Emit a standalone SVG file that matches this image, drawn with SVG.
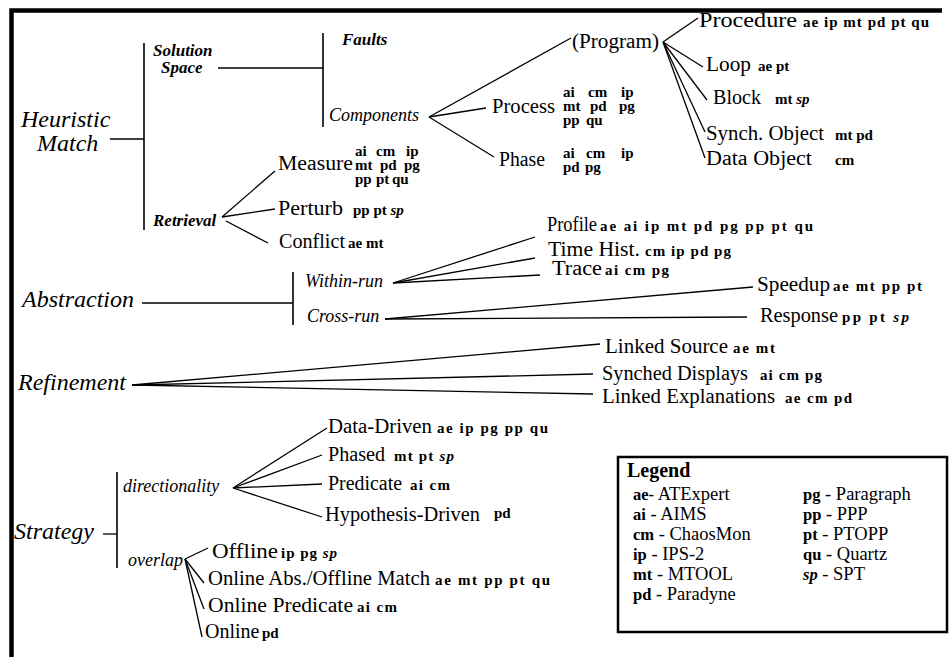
<svg xmlns="http://www.w3.org/2000/svg" width="951" height="657" viewBox="0 0 951 657">
<style>
text{fill:#000}
.cat{font-size:24px;font-style:italic}
.sub{font-size:17px;font-style:italic;font-weight:bold}
.subr{font-size:18px;font-style:italic}
.lbl{font-size:20px}
.tag{font-size:15px;font-weight:bold}
.it{font-style:italic}
.lg{font-size:18.5px}
.lgh{font-size:20px;font-weight:bold}
.b{font-weight:bold;font-size:16.5px}
#connectors line{stroke:#000;stroke-width:1.3;fill:none}
#connectors .bar{stroke-width:1.6}
</style>
<rect width="951" height="657" fill="#fff"/>
<path d="M11.5,657 V10.5 H942" fill="none" stroke="#000" stroke-width="4.5"/>

<g id="connectors">
<line x1="110" y1="139" x2="144" y2="139"/>
<line class="bar" x1="144" y1="43" x2="144" y2="230"/>
<line x1="218" y1="68" x2="323" y2="68"/>
<line class="bar" x1="323" y1="33" x2="323" y2="127"/>
<line x1="429" y1="117" x2="571" y2="38"/>
<line x1="429" y1="117" x2="486" y2="108"/>
<line x1="429" y1="117" x2="494" y2="157"/>
<line x1="663" y1="42" x2="698" y2="18"/>
<line x1="663" y1="42" x2="703" y2="67"/>
<line x1="663" y1="42" x2="707" y2="100"/>
<line x1="663" y1="42" x2="705" y2="132"/>
<line x1="663" y1="42" x2="705" y2="158"/>
<line x1="222" y1="217" x2="275" y2="171"/>
<line x1="222" y1="217" x2="275" y2="209"/>
<line x1="226" y1="221" x2="268" y2="243"/>
<line x1="142" y1="303" x2="293" y2="303"/>
<line class="bar" x1="293" y1="272" x2="293" y2="325"/>
<line x1="393" y1="283" x2="535" y2="237"/>
<line x1="393" y1="283" x2="535" y2="258"/>
<line x1="393" y1="283" x2="540" y2="275"/>
<line x1="385" y1="319" x2="753" y2="287"/>
<line x1="385" y1="319" x2="747" y2="317"/>
<line x1="132" y1="385" x2="600" y2="344"/>
<line x1="132" y1="385" x2="593" y2="374"/>
<line x1="132" y1="385" x2="593" y2="394"/>
<line x1="103" y1="534" x2="117" y2="534"/>
<line class="bar" x1="117" y1="472" x2="117" y2="568"/>
<line x1="233" y1="488" x2="327" y2="428"/>
<line x1="233" y1="488" x2="322" y2="455"/>
<line x1="233" y1="488" x2="322" y2="484"/>
<line x1="233" y1="488" x2="322" y2="517"/>
<line x1="185" y1="559" x2="208" y2="548"/>
<line x1="185" y1="559" x2="204" y2="583"/>
<line x1="185" y1="559" x2="204" y2="609"/>
<line x1="185" y1="559" x2="202" y2="637"/>
</g>

<g font-family="'Liberation Serif', 'DejaVu Serif', serif">
<g id="heuristic-match"><text class="cat" x="21" y="127">Heuristic</text><text class="cat" x="37" y="151">Match</text></g>
<g id="solution-space"><text class="sub" x="153" y="56">Solution</text><text class="sub" x="161" y="73">Space</text></g>
<g id="faults"><text class="sub" x="342" y="45">Faults</text></g>
<g id="components"><text class="subr" x="329" y="121">Components</text></g>
<g id="program"><text class="lbl" x="572" y="48" textLength="87" lengthAdjust="spacingAndGlyphs">(Program)</text></g>
<g id="procedure"><text class="lbl" x="699" y="27" textLength="98" lengthAdjust="spacingAndGlyphs">Procedure</text><text class="tag" x="803" y="27" textLength="126">ae ip mt pd pt qu</text></g>
<g id="loop"><text class="lbl" x="706" y="71" textLength="45" lengthAdjust="spacingAndGlyphs">Loop</text><text class="tag" x="758" y="71">ae pt</text></g>
<g id="block"><text class="lbl" x="713" y="104" textLength="48" lengthAdjust="spacingAndGlyphs">Block</text><text class="tag" x="775" y="104">mt <tspan class="it">sp</tspan></text></g>
<g id="synch-object"><text class="lbl" x="706" y="140" textLength="118" lengthAdjust="spacingAndGlyphs">Synch. Object</text><text class="tag" x="835" y="140">mt pd</text></g>
<g id="data-object"><text class="lbl" x="706" y="165" textLength="106" lengthAdjust="spacingAndGlyphs">Data Object</text><text class="tag" x="835" y="165">cm</text></g>
<g id="process"><text class="lbl" x="492" y="113" textLength="63" lengthAdjust="spacingAndGlyphs">Process</text>
<text class="tag"><tspan x="563" y="97">ai</tspan><tspan x="588">cm</tspan><tspan x="621">ip</tspan><tspan x="563" y="111">mt</tspan><tspan x="590">pd</tspan><tspan x="619">pg</tspan><tspan x="563" y="125">pp</tspan><tspan x="586">qu</tspan></text></g>
<g id="phase"><text class="lbl" x="499" y="166" textLength="46" lengthAdjust="spacingAndGlyphs">Phase</text>
<text class="tag"><tspan x="563" y="158">ai</tspan><tspan x="586">cm</tspan><tspan x="621">ip</tspan><tspan x="563" y="172">pd</tspan><tspan x="585">pg</tspan></text></g>
<g id="retrieval"><text class="sub" x="153" y="226">Retrieval</text></g>
<g id="measure"><text class="lbl" x="278" y="170" textLength="75" lengthAdjust="spacingAndGlyphs">Measure</text>
<text class="tag"><tspan x="355" y="156">ai</tspan><tspan x="376">cm</tspan><tspan x="406">ip</tspan><tspan x="355" y="170">mt</tspan><tspan x="380">pd</tspan><tspan x="404">pg</tspan><tspan x="355" y="184">pp</tspan><tspan x="376">pt</tspan><tspan x="392">qu</tspan></text></g>
<g id="perturb"><text class="lbl" x="278" y="215" textLength="65" lengthAdjust="spacingAndGlyphs">Perturb</text><text class="tag" x="353" y="215">pp pt <tspan class="it">sp</tspan></text></g>
<g id="conflict"><text class="lbl" x="279" y="248" textLength="66" lengthAdjust="spacingAndGlyphs">Conflict</text><text class="tag" x="348" y="248">ae mt</text></g>

<g id="abstraction"><text class="cat" x="22" y="307">Abstraction</text></g>
<g id="within-run"><text class="subr" x="305" y="287">Within-run</text></g>
<g id="cross-run"><text class="subr" x="307" y="322">Cross-run</text></g>
<g id="profile"><text class="lbl" x="547" y="231" textLength="50" lengthAdjust="spacingAndGlyphs">Profile</text><text class="tag" x="600" y="231" textLength="213">ae ai ip mt pd pg pp pt qu</text></g>
<g id="time-hist"><text class="lbl" x="548" y="256" textLength="92" lengthAdjust="spacingAndGlyphs">Time Hist.</text><text class="tag" x="645" y="256" textLength="86">cm ip pd pg</text></g>
<g id="trace"><text class="lbl" x="552" y="275" textLength="50" lengthAdjust="spacingAndGlyphs">Trace</text><text class="tag" x="605" y="275" textLength="64">ai cm pg</text></g>
<g id="speedup"><text class="lbl" x="757" y="291" textLength="73" lengthAdjust="spacingAndGlyphs">Speedup</text><text class="tag" x="833" y="291" textLength="89">ae mt pp pt</text></g>
<g id="response"><text class="lbl" x="760" y="322" textLength="78" lengthAdjust="spacingAndGlyphs">Response</text><text class="tag" x="842" y="322" textLength="67">pp pt <tspan class="it">sp</tspan></text></g>

<g id="refinement"><text class="cat" x="18" y="390">Refinement</text></g>
<g id="linked-source"><text class="lbl" x="605" y="353" textLength="123" lengthAdjust="spacingAndGlyphs">Linked Source</text><text class="tag" x="733" y="353" textLength="42">ae mt</text></g>
<g id="synched-displays"><text class="lbl" x="602" y="380" textLength="146" lengthAdjust="spacingAndGlyphs">Synched Displays</text><text class="tag" x="760" y="380" textLength="62">ai cm pg</text></g>
<g id="linked-explanations"><text class="lbl" x="602" y="403" textLength="173" lengthAdjust="spacingAndGlyphs">Linked Explanations</text><text class="tag" x="785" y="403" textLength="67">ae cm pd</text></g>

<g id="strategy"><text class="cat" x="14" y="539">Strategy</text></g>
<g id="directionality"><text class="subr" x="123" y="492">directionality</text></g>
<g id="overlap"><text class="subr" x="128" y="566">overlap</text></g>
<g id="data-driven"><text class="lbl" x="328" y="433" textLength="104" lengthAdjust="spacingAndGlyphs">Data-Driven</text><text class="tag" x="437" y="433" textLength="111">ae ip pg pp qu</text></g>
<g id="phased"><text class="lbl" x="328" y="461" textLength="57" lengthAdjust="spacingAndGlyphs">Phased</text><text class="tag" x="394" y="461" textLength="60">mt pt <tspan class="it">sp</tspan></text></g>
<g id="predicate"><text class="lbl" x="328" y="490" textLength="74" lengthAdjust="spacingAndGlyphs">Predicate</text><text class="tag" x="410" y="490" textLength="40">ai cm</text></g>
<g id="hypothesis-driven"><text class="lbl" x="325" y="521" textLength="155" lengthAdjust="spacingAndGlyphs">Hypothesis-Driven</text><text class="tag" x="494" y="518">pd</text></g>
<g id="offline"><text class="lbl" x="212" y="558" textLength="66" lengthAdjust="spacingAndGlyphs">Offline</text><text class="tag" x="281" y="558" textLength="56">ip pg <tspan class="it">sp</tspan></text></g>
<g id="online-abs-offline-match"><text class="lbl" x="208" y="585" textLength="222" lengthAdjust="spacingAndGlyphs">Online Abs./Offline Match</text><text class="tag" x="435" y="585" textLength="115">ae mt pp pt qu</text></g>
<g id="online-predicate"><text class="lbl" x="208" y="612" textLength="145" lengthAdjust="spacingAndGlyphs">Online Predicate</text><text class="tag" x="357" y="612" textLength="40">ai cm</text></g>
<g id="online"><text class="lbl" x="205" y="638">Online</text><text class="tag" x="262" y="638">pd</text></g>

<g id="legend">
<rect x="618" y="457" width="329" height="175" fill="none" stroke="#000" stroke-width="2.5"/>
<text class="lgh" x="627" y="477">Legend</text>
<text class="lg" x="633" y="500"><tspan class="b">ae-</tspan> ATExpert</text>
<text class="lg" x="633" y="520"><tspan class="b">ai</tspan> - AIMS</text>
<text class="lg" x="633" y="540"><tspan class="b">cm</tspan> - ChaosMon</text>
<text class="lg" x="633" y="560"><tspan class="b">ip</tspan> - IPS-2</text>
<text class="lg" x="633" y="580"><tspan class="b">mt</tspan> - MTOOL</text>
<text class="lg" x="633" y="600"><tspan class="b">pd</tspan> - Paradyne</text>
<text class="lg" x="803" y="500"><tspan class="b">pg</tspan> - Paragraph</text>
<text class="lg" x="803" y="520"><tspan class="b">pp</tspan> - PPP</text>
<text class="lg" x="803" y="540"><tspan class="b">pt</tspan> - PTOPP</text>
<text class="lg" x="803" y="560"><tspan class="b">qu</tspan> - Quartz</text>
<text class="lg" x="803" y="580"><tspan class="b it">sp</tspan> - SPT</text>
</g>
</g>
</svg>
